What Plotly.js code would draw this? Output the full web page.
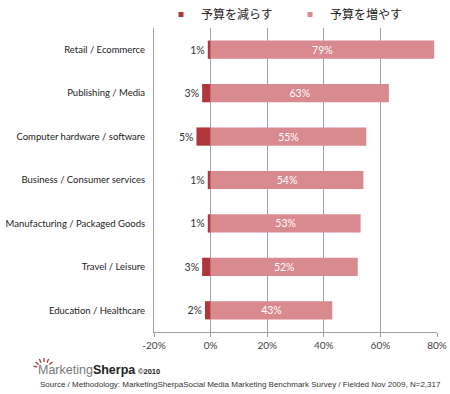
<!DOCTYPE html>
<html>
<head>
<meta charset="utf-8">
<script src="https://cdn.plot.ly/plotly-3.0.1.min.js"></script>
<style>
  html, body { margin: 0; padding: 0; background: #fff; }
  #chart { width: 450px; height: 394px; }
</style>
</head>
<body>
<div id="chart"></div>
<script>
const categories = [
  "Retail / Ecommerce",
  "Publishing / Media",
  "Computer hardware / software",
  "Business / Consumer services",
  "Manufacturing / Packaged Goods",
  "Travel / Leisure",
  "Education / Healthcare"
];
const decreaseValues = [1, 3, 5, 1, 1, 3, 2];
const increaseValues = [79, 63, 55, 54, 53, 52, 43];
const seriesNames = ["予算を減らす", "予算を増やす"];
const tickValues = [-20, 0, 20, 40, 60, 80];
const tickLabels = ["-20%", "0%", "20%", "40%", "60%", "80%"];
const sourceText = "Source / Methodology: MarketingSherpaSocial Media Marketing Benchmark Survey / Fielded Nov 2009, N=2,317";

const baseFont = "Lato, 'Open Sans', 'Liberation Sans', sans-serif";
const colors = ["#b0383c", "#d98a8f"];

const traces = [
  {
    type: "bar",
    orientation: "h",
    name: seriesNames[0],
    y: categories,
    x: decreaseValues.map(v => -v),
    text: decreaseValues.map(v => v + "%"),
    textposition: "outside",
    textfont: { family: baseFont, size: 10.5, color: "#333" },
    cliponaxis: false,
    marker: { color: colors[0], line: { width: 0 } },
    showlegend: false,
    hoverinfo: "skip"
  },
  {
    type: "bar",
    orientation: "h",
    name: seriesNames[1],
    y: categories,
    x: increaseValues,
    text: increaseValues.map(v => v + "%"),
    textposition: "inside",
    insidetextanchor: "middle",
    constraintext: "none",
    textfont: { family: baseFont, size: 10.5, color: "#ffffff" },
    marker: { color: colors[1], line: { width: 0 } },
    showlegend: false,
    hoverinfo: "skip"
  },
  // legend-only entries with small square markers
  {
    type: "scatter", mode: "markers", name: seriesNames[0],
    x: [null], y: [null],
    marker: { symbol: "square", size: 5, color: colors[0] },
    showlegend: true, hoverinfo: "skip"
  },
  {
    type: "scatter", mode: "markers", name: seriesNames[1],
    x: [null], y: [null],
    marker: { symbol: "square", size: 5, color: colors[1] },
    showlegend: true, hoverinfo: "skip"
  }
];

// helpers converting approx pixel positions to paper coords (plot area 154..437 x, 28..332 y)
const L = 154, R = 437, T = 28, B = 332;
const px = p => (p - L) / (R - L);
const py = p => (B - p) / (B - T);

const cx = 44, cy = 369, r1 = 7, r2 = 11;
const rayShapes = [-165, -140, -115, -90, -65, -40].map(deg => {
  const rad = deg * Math.PI / 180;
  return {
    type: "line", xref: "paper", yref: "paper",
    x0: px(cx + r1 * Math.cos(rad)), y0: py(cy + r1 * Math.sin(rad)),
    x1: px(cx + r2 * Math.cos(rad)), y1: py(cy + r2 * Math.sin(rad)),
    line: { color: "#b0383c", width: 1.3 }
  };
});

const layout = {
  width: 450,
  height: 394,
  margin: { l: 154, r: 13, t: 28, b: 62, autoexpand: false },
  paper_bgcolor: "#ffffff",
  plot_bgcolor: "#ffffff",
  barmode: "overlay",
  bargap: 0.58,
  font: { family: baseFont, size: 10, color: "#333" },
  showlegend: true,
  legend: {
    orientation: "h",
    xref: "container", yref: "container",
    x: 161 / 450, xanchor: "left",
    y: 1.0, yanchor: "top",
    font: { family: "'Noto Sans CJK JP', sans-serif", size: 12, color: "#222" },
    itemwidth: 30,
    entrywidth: 84,
    tracegroupgap: 0,
    traceorder: "normal",
    bgcolor: "rgba(0,0,0,0)"
  },
  xaxis: {
    range: [-20, 80],
    tickvals: tickValues,
    ticktext: tickLabels,
    showgrid: true,
    gridcolor: "#a0a0a0",
    gridwidth: 1,
    zeroline: false,
    showline: true,
    linecolor: "#a0a0a0",
    linewidth: 1,
    ticks: "outside",
    ticklen: 4,
    tickcolor: "#a0a0a0",
    tickfont: { family: baseFont, size: 10, color: "#444" },
    fixedrange: true
  },
  yaxis: {
    autorange: "reversed",
    showline: true,
    linecolor: "#a0a0a0",
    linewidth: 1,
    showgrid: false,
    ticks: "",
    ticklabelstandoff: 6,
    tickfont: { family: baseFont, size: 9.5, color: "#222" },
    fixedrange: true
  },
  shapes: rayShapes,
  annotations: [
    {
      xref: "paper", yref: "paper",
      x: px(36), y: py(370), xanchor: "left", yanchor: "middle",
      text: "<span style='color:#777'>Marketing</span><b>Sherpa</b>",
      showarrow: false,
      font: { family: "'Liberation Sans', Arial, sans-serif", size: 12.5, color: "#222" }
    },
    {
      xref: "paper", yref: "paper",
      x: px(136), y: py(371), xanchor: "left", yanchor: "middle",
      text: "<b>©2010</b>",
      showarrow: false,
      font: { family: "'Liberation Sans', Arial, sans-serif", size: 7.5, color: "#222" }
    },
    {
      xref: "paper", yref: "paper",
      x: px(443), y: py(384), xanchor: "right", yanchor: "middle",
      text: sourceText,
      showarrow: false,
      font: { family: "'Liberation Sans', sans-serif", size: 8, color: "#333" }
    }
  ]
};

Plotly.newPlot("chart", traces, layout, { displayModeBar: false, staticPlot: true });
</script>
</body>
</html>
